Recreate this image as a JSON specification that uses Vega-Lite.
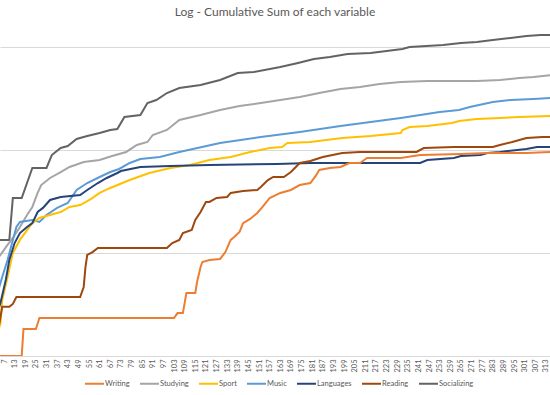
{
  "$schema": "https://vega.github.io/schema/vega-lite/v6.json",
  "width": 550,
  "height": 326,
  "autosize": "none",
  "padding": {"left": 0, "top": 30, "right": 0, "bottom": 39},
  "background": "white",
  "title": {"text": "Log - Cumulative Sum of each variable", "font": "Lato", "fontSize": 12, "fontWeight": "normal", "color": "#595959", "offset": 11},
  "config": {"view": {"stroke": null}},
  "data": {"values": [
    {"d":1,"s":"Socializing","v":13.4},{"d":9,"s":"Socializing","v":13.4},{"d":10,"s":"Socializing","v":13.4},{"d":12,"s":"Socializing","v":34.2},{"d":17,"s":"Socializing","v":34.2},{"d":23,"s":"Socializing","v":66.9},{"d":31,"s":"Socializing","v":66.9},{"d":34,"s":"Socializing","v":89.4},{"d":39,"s":"Socializing","v":104.5},{"d":43,"s":"Socializing","v":109.4},{"d":48,"s":"Socializing","v":127.9},{"d":54,"s":"Socializing","v":136.8},{"d":61,"s":"Socializing","v":146.3},{"d":67,"s":"Socializing","v":156.4},{"d":71,"s":"Socializing","v":159.9},{"d":75,"s":"Socializing","v":209},{"d":84,"s":"Socializing","v":218.8},{"d":88,"s":"Socializing","v":285.8},{"d":93,"s":"Socializing","v":305.7},{"d":99,"s":"Socializing","v":357.4},{"d":106,"s":"Socializing","v":400},{"d":118,"s":"Socializing","v":427.7},{"d":129,"s":"Socializing","v":478.6},{"d":139,"s":"Socializing","v":559.6},{"d":148,"s":"Socializing","v":571.9},{"d":163,"s":"Socializing","v":639.8},{"d":173,"s":"Socializing","v":699.8},{"d":182,"s":"Socializing","v":764.4},{"d":191,"s":"Socializing","v":799.8},{"d":201,"s":"Socializing","v":855.1},{"d":214,"s":"Socializing","v":874.9},{"d":223,"s":"Socializing","v":914.6},{"d":232,"s":"Socializing","v":957.2},{"d":236,"s":"Socializing","v":1000},{"d":255,"s":"Socializing","v":1045},{"d":265,"s":"Socializing","v":1094},{"d":274,"s":"Socializing","v":1119},{"d":283,"s":"Socializing","v":1170},{"d":293,"s":"Socializing","v":1222},{"d":302,"s":"Socializing","v":1279},{"d":310,"s":"Socializing","v":1309},{"d":316,"s":"Socializing","v":1309},

    {"d":1,"s":"Studying","v":8},{"d":5,"s":"Studying","v":9.6},{"d":9,"s":"Studying","v":12},{"d":12,"s":"Studying","v":14},{"d":16,"s":"Studying","v":17.9},{"d":20,"s":"Studying","v":23.4},{"d":23,"s":"Studying","v":28},{"d":26,"s":"Studying","v":38.3},{"d":28,"s":"Studying","v":45.7},{"d":33,"s":"Studying","v":53.5},{"d":39,"s":"Studying","v":61.1},{"d":44,"s":"Studying","v":68.4},{"d":52,"s":"Studying","v":76.4},{"d":61,"s":"Studying","v":80},{"d":68,"s":"Studying","v":87.5},{"d":76,"s":"Studying","v":95.7},{"d":82,"s":"Studying","v":111.9},{"d":88,"s":"Studying","v":119.6},{"d":91,"s":"Studying","v":139.9},{"d":99,"s":"Studying","v":156.4},{"d":106,"s":"Studying","v":195.6},{"d":118,"s":"Studying","v":218.8},{"d":129,"s":"Studying","v":244.5},{"d":140,"s":"Studying","v":267.4},{"d":152,"s":"Studying","v":285.8},{"d":163,"s":"Studying","v":305.7},{"d":174,"s":"Studying","v":327.1},{"d":185,"s":"Studying","v":357.4},{"d":197,"s":"Studying","v":390.8},{"d":208,"s":"Studying","v":409.3},{"d":219,"s":"Studying","v":437.5},{"d":231,"s":"Studying","v":457.1},{"d":246,"s":"Studying","v":467.7},{"d":274,"s":"Studying","v":467.7},{"d":287,"s":"Studying","v":478.6},{"d":298,"s":"Studying","v":500},{"d":306,"s":"Studying","v":511.2},{"d":316,"s":"Studying","v":534.6},

    {"d":1,"s":"Music","v":3},{"d":6,"s":"Music","v":5.85},{"d":9,"s":"Music","v":8.55},{"d":12,"s":"Music","v":13.4},{"d":14,"s":"Music","v":17.9},{"d":16,"s":"Music","v":20},{"d":23,"s":"Music","v":20.9},{"d":27,"s":"Music","v":20},{"d":31,"s":"Music","v":23.4},{"d":37,"s":"Music","v":27.4},{"d":43,"s":"Music","v":30.6},{"d":48,"s":"Music","v":40.9},{"d":54,"s":"Music","v":47.8},{"d":61,"s":"Music","v":54.7},{"d":67,"s":"Music","v":61.1},{"d":72,"s":"Music","v":65.4},{"d":78,"s":"Music","v":74.8},{"d":84,"s":"Music","v":81.8},{"d":95,"s":"Music","v":85.5},{"d":106,"s":"Music","v":95.7},{"d":129,"s":"Music","v":116.9},{"d":152,"s":"Music","v":133.7},{"d":174,"s":"Music","v":149.6},{"d":197,"s":"Music","v":171},{"d":214,"s":"Music","v":187},{"d":231,"s":"Music","v":204.6},{"d":242,"s":"Music","v":218.8},{"d":253,"s":"Music","v":233.9},{"d":264,"s":"Music","v":244.5},{"d":270,"s":"Music","v":261.4},{"d":283,"s":"Music","v":292.4},{"d":293,"s":"Music","v":305.7},{"d":306,"s":"Music","v":312.6},{"d":316,"s":"Music","v":319.9},

    {"d":1,"s":"Sport","v":1.2},{"d":5,"s":"Sport","v":2.09},{"d":6,"s":"Sport","v":3.5},{"d":9,"s":"Sport","v":5.85},{"d":12,"s":"Sport","v":10},{"d":16,"s":"Sport","v":13.4},{"d":20,"s":"Sport","v":16.7},{"d":23,"s":"Sport","v":19.5},{"d":27,"s":"Sport","v":21.9},{"d":33,"s":"Sport","v":23.4},{"d":39,"s":"Sport","v":25},{"d":44,"s":"Sport","v":28},{"d":50,"s":"Sport","v":29.2},{"d":56,"s":"Sport","v":33.4},{"d":61,"s":"Sport","v":38.3},{"d":67,"s":"Sport","v":42.8},{"d":78,"s":"Sport","v":51.1},{"d":89,"s":"Sport","v":59.8},{"d":101,"s":"Sport","v":66.9},{"d":112,"s":"Sport","v":71.5},{"d":123,"s":"Sport","v":80},{"d":135,"s":"Sport","v":85.5},{"d":146,"s":"Sport","v":95.7},{"d":157,"s":"Sport","v":104.5},{"d":164,"s":"Sport","v":106.9},{"d":167,"s":"Sport","v":116.9},{"d":180,"s":"Sport","v":119.6},{"d":198,"s":"Sport","v":130.8},{"d":214,"s":"Sport","v":136.8},{"d":231,"s":"Sport","v":146.3},{"d":232,"s":"Sport","v":156.4},{"d":236,"s":"Sport","v":167.2},{"d":246,"s":"Sport","v":171},{"d":260,"s":"Sport","v":182.9},{"d":264,"s":"Sport","v":191.4},{"d":274,"s":"Sport","v":200},{"d":287,"s":"Sport","v":204.6},{"d":298,"s":"Sport","v":209},{"d":316,"s":"Sport","v":213.8},

    {"d":1,"s":"Languages","v":2},{"d":5,"s":"Languages","v":3.27},{"d":8,"s":"Languages","v":5.47},{"d":10,"s":"Languages","v":8.55},{"d":13,"s":"Languages","v":12.5},{"d":16,"s":"Languages","v":15.6},{"d":20,"s":"Languages","v":17.9},{"d":23,"s":"Languages","v":19.5},{"d":26,"s":"Languages","v":25},{"d":29,"s":"Languages","v":27.4},{"d":33,"s":"Languages","v":32.7},{"d":39,"s":"Languages","v":35},{"d":50,"s":"Languages","v":36.6},{"d":54,"s":"Languages","v":40.9},{"d":60,"s":"Languages","v":47.8},{"d":65,"s":"Languages","v":53.5},{"d":71,"s":"Languages","v":59.8},{"d":73,"s":"Languages","v":62.5},{"d":84,"s":"Languages","v":68.4},{"d":101,"s":"Languages","v":70},{"d":123,"s":"Languages","v":71.5},{"d":161,"s":"Languages","v":73.1},{"d":180,"s":"Languages","v":74.8},{"d":242,"s":"Languages","v":74.8},{"d":246,"s":"Languages","v":80},{"d":261,"s":"Languages","v":83.6},{"d":265,"s":"Languages","v":87.5},{"d":276,"s":"Languages","v":89.4},{"d":280,"s":"Languages","v":93.5},{"d":287,"s":"Languages","v":95.7},{"d":302,"s":"Languages","v":102.3},{"d":308,"s":"Languages","v":106.9},{"d":316,"s":"Languages","v":106.9},

    {"d":1,"s":"Reading","v":1},{"d":5,"s":"Reading","v":2.39},{"d":6,"s":"Reading","v":3},{"d":10,"s":"Reading","v":3},{"d":12,"s":"Reading","v":3.2},{"d":14,"s":"Reading","v":3.74},{"d":50,"s":"Reading","v":3.74},{"d":52,"s":"Reading","v":4.68},{"d":53,"s":"Reading","v":7.31},{"d":54,"s":"Reading","v":9.57},{"d":57,"s":"Reading","v":10.2},{"d":60,"s":"Reading","v":11.2},{"d":99,"s":"Reading","v":11.2},{"d":102,"s":"Reading","v":12.5},{"d":106,"s":"Reading","v":13.4},{"d":108,"s":"Reading","v":15.6},{"d":113,"s":"Reading","v":16.7},{"d":115,"s":"Reading","v":20.9},{"d":118,"s":"Reading","v":25},{"d":121,"s":"Reading","v":31.3},{"d":123,"s":"Reading","v":31.3},{"d":127,"s":"Reading","v":34.2},{"d":133,"s":"Reading","v":35},{"d":135,"s":"Reading","v":38.3},{"d":142,"s":"Reading","v":40},{"d":150,"s":"Reading","v":40.9},{"d":152,"s":"Reading","v":43.7},{"d":156,"s":"Reading","v":51.1},{"d":159,"s":"Reading","v":54.7},{"d":165,"s":"Reading","v":54.7},{"d":169,"s":"Reading","v":61.1},{"d":174,"s":"Reading","v":74.8},{"d":180,"s":"Reading","v":78.2},{"d":187,"s":"Reading","v":85.5},{"d":198,"s":"Reading","v":93.5},{"d":208,"s":"Reading","v":95.7},{"d":240,"s":"Reading","v":95.7},{"d":244,"s":"Reading","v":104.5},{"d":261,"s":"Reading","v":106.9},{"d":283,"s":"Reading","v":106.9},{"d":287,"s":"Reading","v":111.9},{"d":294,"s":"Reading","v":119.6},{"d":302,"s":"Reading","v":130.8},{"d":311,"s":"Reading","v":133.7},{"d":316,"s":"Reading","v":133.7},

    {"d":1,"s":"Writing","v":1},{"d":17,"s":"Writing","v":1},{"d":18,"s":"Writing","v":1.83},{"d":25,"s":"Writing","v":1.83},{"d":27,"s":"Writing","v":2.34},{"d":103,"s":"Writing","v":2.34},{"d":105,"s":"Writing","v":2.61},{"d":108,"s":"Writing","v":2.61},{"d":110,"s":"Writing","v":4.09},{"d":115,"s":"Writing","v":4.09},{"d":116,"s":"Writing","v":5.23},{"d":118,"s":"Writing","v":7.31},{"d":119,"s":"Writing","v":8.18},{"d":123,"s":"Writing","v":8.55},{"d":129,"s":"Writing","v":8.75},{"d":132,"s":"Writing","v":10.2},{"d":135,"s":"Writing","v":13.4},{"d":137,"s":"Writing","v":14.3},{"d":140,"s":"Writing","v":16},{"d":142,"s":"Writing","v":19.5},{"d":146,"s":"Writing","v":21.4},{"d":150,"s":"Writing","v":24.5},{"d":153,"s":"Writing","v":28},{"d":157,"s":"Writing","v":34.2},{"d":163,"s":"Writing","v":38.3},{"d":169,"s":"Writing","v":40.9},{"d":174,"s":"Writing","v":45.7},{"d":180,"s":"Writing","v":47.8},{"d":183,"s":"Writing","v":56},{"d":185,"s":"Writing","v":64},{"d":191,"s":"Writing","v":66.9},{"d":197,"s":"Writing","v":68.4},{"d":202,"s":"Writing","v":74.8},{"d":208,"s":"Writing","v":74.8},{"d":212,"s":"Writing","v":83.6},{"d":231,"s":"Writing","v":83.6},{"d":242,"s":"Writing","v":89.4},{"d":265,"s":"Writing","v":91.5},{"d":280,"s":"Writing","v":93.5},{"d":302,"s":"Writing","v":93.5},{"d":316,"s":"Writing","v":95.7}
  ]},
  "mark": {"type": "line", "strokeWidth": 2, "clip": true, "interpolate": "linear"},
  "encoding": {
    "x": {"field": "d", "type": "quantitative",
      "scale": {"domain": [4.74, 315.3], "nice": false, "zero": false},
      "axis": {"title": null, "values": [7,13,19,25,31,37,43,49,55,61,67,73,79,85,91,97,103,109,115,121,127,133,139,145,151,157,163,169,175,181,187,193,199,205,211,217,223,229,235,241,247,253,259,265,271,277,283,289,295,301,307,313],
        "labelAngle": -90, "labelFont": "Lato", "labelFontSize": 7.5, "labelColor": "#595959", "labelPadding": 3, "labelOverlap": false, "labelFlush": false,
        "ticks": false, "grid": false, "domainColor": "#d9d9d9", "domainWidth": 1}},
    "y": {"field": "v", "type": "quantitative",
      "scale": {"type": "log", "domain": [1, 1462], "nice": false},
      "axis": {"title": null, "labels": false, "ticks": false, "domain": false, "grid": true, "values": [1, 10, 100, 1000], "gridColor": "#d9d9d9", "gridWidth": 1}},
    "color": {"field": "s", "type": "nominal",
      "scale": {"domain": ["Writing","Studying","Sport","Music","Languages","Reading","Socializing"],
                "range": ["#ED7D31","#A5A5A5","#FFC000","#5B9BD5","#264478","#9E480E","#636363"]},
      "legend": {"title": null, "orient": "none", "legendX": 84, "legendY": 343, "direction": "horizontal", "columns": 7,
        "symbolType": "stroke", "symbolSize": 361, "symbolStrokeWidth": 2, "labelFont": "Lato", "labelFontSize": 7.5, "labelColor": "#595959",
        "columnPadding": 6, "labelOffset": 0}}
  }
}
